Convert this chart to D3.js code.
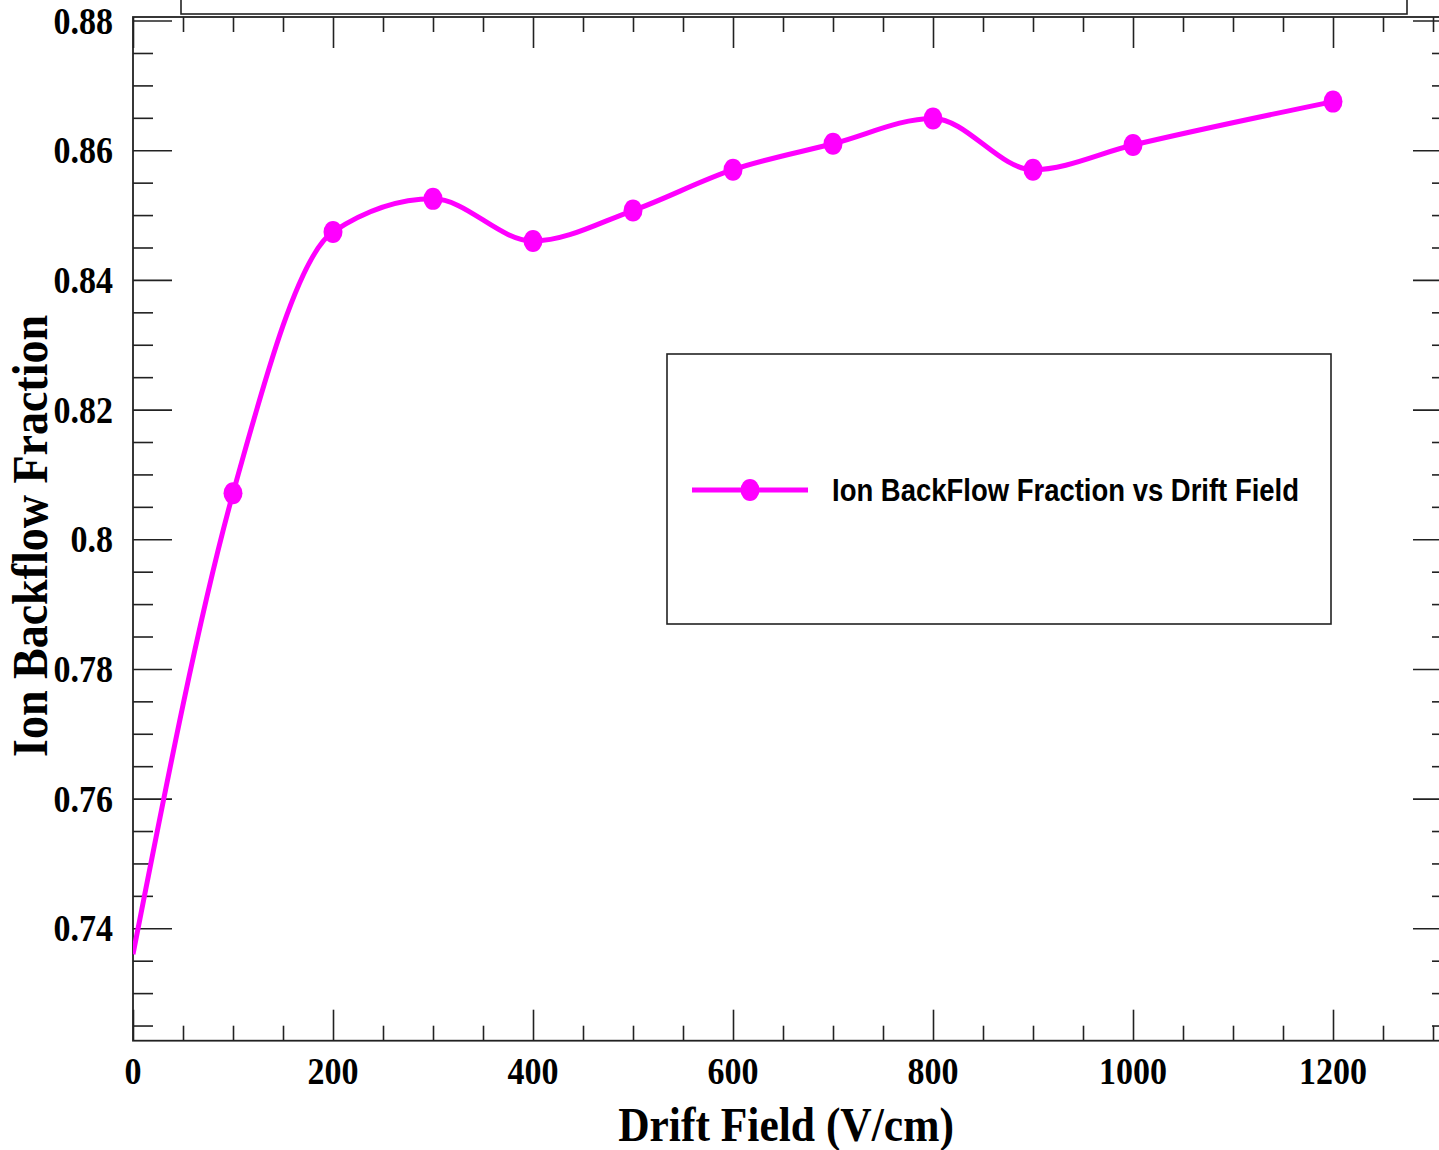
<!DOCTYPE html>
<html>
<head>
<meta charset="utf-8">
<script src="https://cdn.jsdelivr.net/npm/d3@7"></script>
<style>
  body { margin: 0; background: #fff; }
  svg { display: block; }
</style>
</head>
<body>
<svg id="chart" width="1439" height="1150"></svg>
<script>
// Drift field (V/cm) and measured ion backflow fraction
const fieldValues = [0, 100, 200, 300, 400, 500, 600, 700, 800, 900, 1000, 1200];
const ibfValues = [0.7360, 0.8071, 0.8474, 0.8525, 0.8460, 0.8507, 0.8570, 0.8610, 0.8649, 0.8570, 0.8608, 0.8675];

const xMajorTicks = [0, 200, 400, 600, 800, 1000, 1200];
const yMajorTicks = [0.74, 0.76, 0.78, 0.80, 0.82, 0.84, 0.86, 0.88];
const yTickLabels = ["0.74", "0.76", "0.78", "0.8", "0.82", "0.84", "0.86", "0.88"];
const legendLabel = "Ion BackFlow Fraction vs Drift Field";

const svg = d3.select("#chart");

// frame in pixels (right edge is just past the picture edge)
const frame = { left: 133, right: 1452, top: 17, bottom: 1040.7 };

const x = d3.scaleLinear().domain([0, 1319]).range([frame.left, frame.right]);
const y = d3.scaleLinear().domain([0.72266, 0.88055]).range([frame.bottom, frame.top]);

const axisColor = "#222";
const magenta = "#ff00ff";
const serif = "'Liberation Serif', 'Times New Roman', serif";
const sans = "'Liberation Sans', Arial, sans-serif";

// title box cut off at the top
svg.append("rect")
    .attr("x", 181).attr("y", -20)
    .attr("width", 1226).attr("height", 34)
    .attr("fill", "none").attr("stroke", axisColor).attr("stroke-width", 1.6);

// ticks (pointing inward like ROOT)
const xMinor = d3.range(0, 1301, 50).filter(v => !xMajorTicks.includes(v));
const yMinor = d3.range(0.725, 0.8801, 0.005).filter(v => !yMajorTicks.some(t => Math.abs(t - v) < 1e-6));

function styleAxis(g) {
    g.select(".domain").remove();
    g.selectAll("line").attr("stroke", axisColor).attr("stroke-width", 1.6);
    g.selectAll("text").remove();
}

svg.append("g").attr("transform", `translate(0,${frame.bottom})`)
    .call(d3.axisBottom(x).tickValues(xMajorTicks).tickSize(-31)).call(styleAxis);
svg.append("g").attr("transform", `translate(0,${frame.bottom})`)
    .call(d3.axisBottom(x).tickValues(xMinor).tickSize(-15)).call(styleAxis);
svg.append("g").attr("transform", `translate(0,${frame.top})`)
    .call(d3.axisTop(x).tickValues(xMajorTicks).tickSize(-31)).call(styleAxis);
svg.append("g").attr("transform", `translate(0,${frame.top})`)
    .call(d3.axisTop(x).tickValues(xMinor).tickSize(-15)).call(styleAxis);

svg.append("g").attr("transform", `translate(${frame.left},0)`)
    .call(d3.axisLeft(y).tickValues(yMajorTicks).tickSize(-39)).call(styleAxis);
svg.append("g").attr("transform", `translate(${frame.left},0)`)
    .call(d3.axisLeft(y).tickValues(yMinor).tickSize(-20)).call(styleAxis);
svg.append("g").attr("transform", `translate(${frame.right},0)`)
    .call(d3.axisRight(y).tickValues(yMajorTicks).tickSize(-39)).call(styleAxis);
svg.append("g").attr("transform", `translate(${frame.right},0)`)
    .call(d3.axisRight(y).tickValues(yMinor).tickSize(-20)).call(styleAxis);

// frame
svg.append("rect")
    .attr("x", frame.left).attr("y", frame.top)
    .attr("width", frame.right - frame.left).attr("height", frame.bottom - frame.top)
    .attr("fill", "none").attr("stroke", axisColor).attr("stroke-width", 1.8);

// tick labels (the source picture is a bit stretched vertically)
svg.append("g").selectAll("text")
    .data(xMajorTicks).join("text")
    .attr("transform", d => `translate(${x(d)},1084) scale(1,1.13)`)
    .attr("text-anchor", "middle")
    .style("font-family", serif).style("font-weight", "bold").style("font-size", "34px")
    .text(d => d);

svg.append("g").selectAll("text")
    .data(yMajorTicks).join("text")
    .attr("transform", d => `translate(113,${y(d) + 13}) scale(1,1.13)`)
    .attr("text-anchor", "end")
    .style("font-family", serif).style("font-weight", "bold").style("font-size", "34px")
    .text((d, i) => yTickLabels[i]);

// axis titles
svg.append("text")
    .attr("transform", "translate(786,1141) scale(1,1.1)")
    .attr("text-anchor", "middle")
    .style("font-family", serif).style("font-weight", "bold").style("font-size", "43.5px")
    .text("Drift Field (V/cm)");

svg.append("text")
    .attr("transform", "translate(47,536) rotate(-90) scale(1,1.08)")
    .attr("text-anchor", "middle")
    .style("font-family", serif).style("font-weight", "bold").style("font-size", "46px")
    .text("Ion Backflow Fraction");

// data curve
const points = fieldValues.map((f, i) => ({ f, v: ibfValues[i] }));

svg.append("defs").append("clipPath").attr("id", "plotClip")
    .append("rect")
    .attr("x", frame.left).attr("y", frame.top)
    .attr("width", frame.right - frame.left).attr("height", frame.bottom - frame.top);

const line = d3.line()
    .x(d => x(d.f))
    .y(d => y(d.v))
    .curve(d3.curveMonotoneX);

svg.append("path")
    .datum(points)
    .attr("clip-path", "url(#plotClip)")
    .attr("d", line)
    .attr("fill", "none")
    .attr("stroke", magenta)
    .attr("stroke-width", 5);

svg.append("g").selectAll("ellipse")
    .data(points.filter(d => d.f > 0)).join("ellipse")
    .attr("cx", d => x(d.f))
    .attr("cy", d => y(d.v))
    .attr("rx", 9.5).attr("ry", 11)
    .attr("fill", magenta);

// legend
svg.append("rect")
    .attr("x", 667).attr("y", 354)
    .attr("width", 664).attr("height", 270)
    .attr("fill", "#fff").attr("stroke", axisColor).attr("stroke-width", 1.6);

svg.append("line")
    .attr("x1", 692).attr("x2", 808).attr("y1", 490).attr("y2", 490)
    .attr("stroke", magenta).attr("stroke-width", 5);
svg.append("ellipse")
    .attr("cx", 750).attr("cy", 490).attr("rx", 9.5).attr("ry", 11)
    .attr("fill", magenta);

svg.append("text")
    .attr("transform", "translate(832,501) scale(1,1.12)")
    .attr("textLength", 467).attr("lengthAdjust", "spacingAndGlyphs")
    .style("font-family", sans).style("font-weight", "bold").style("font-size", "27.5px")
    .text(legendLabel);
</script>
</body>
</html>
